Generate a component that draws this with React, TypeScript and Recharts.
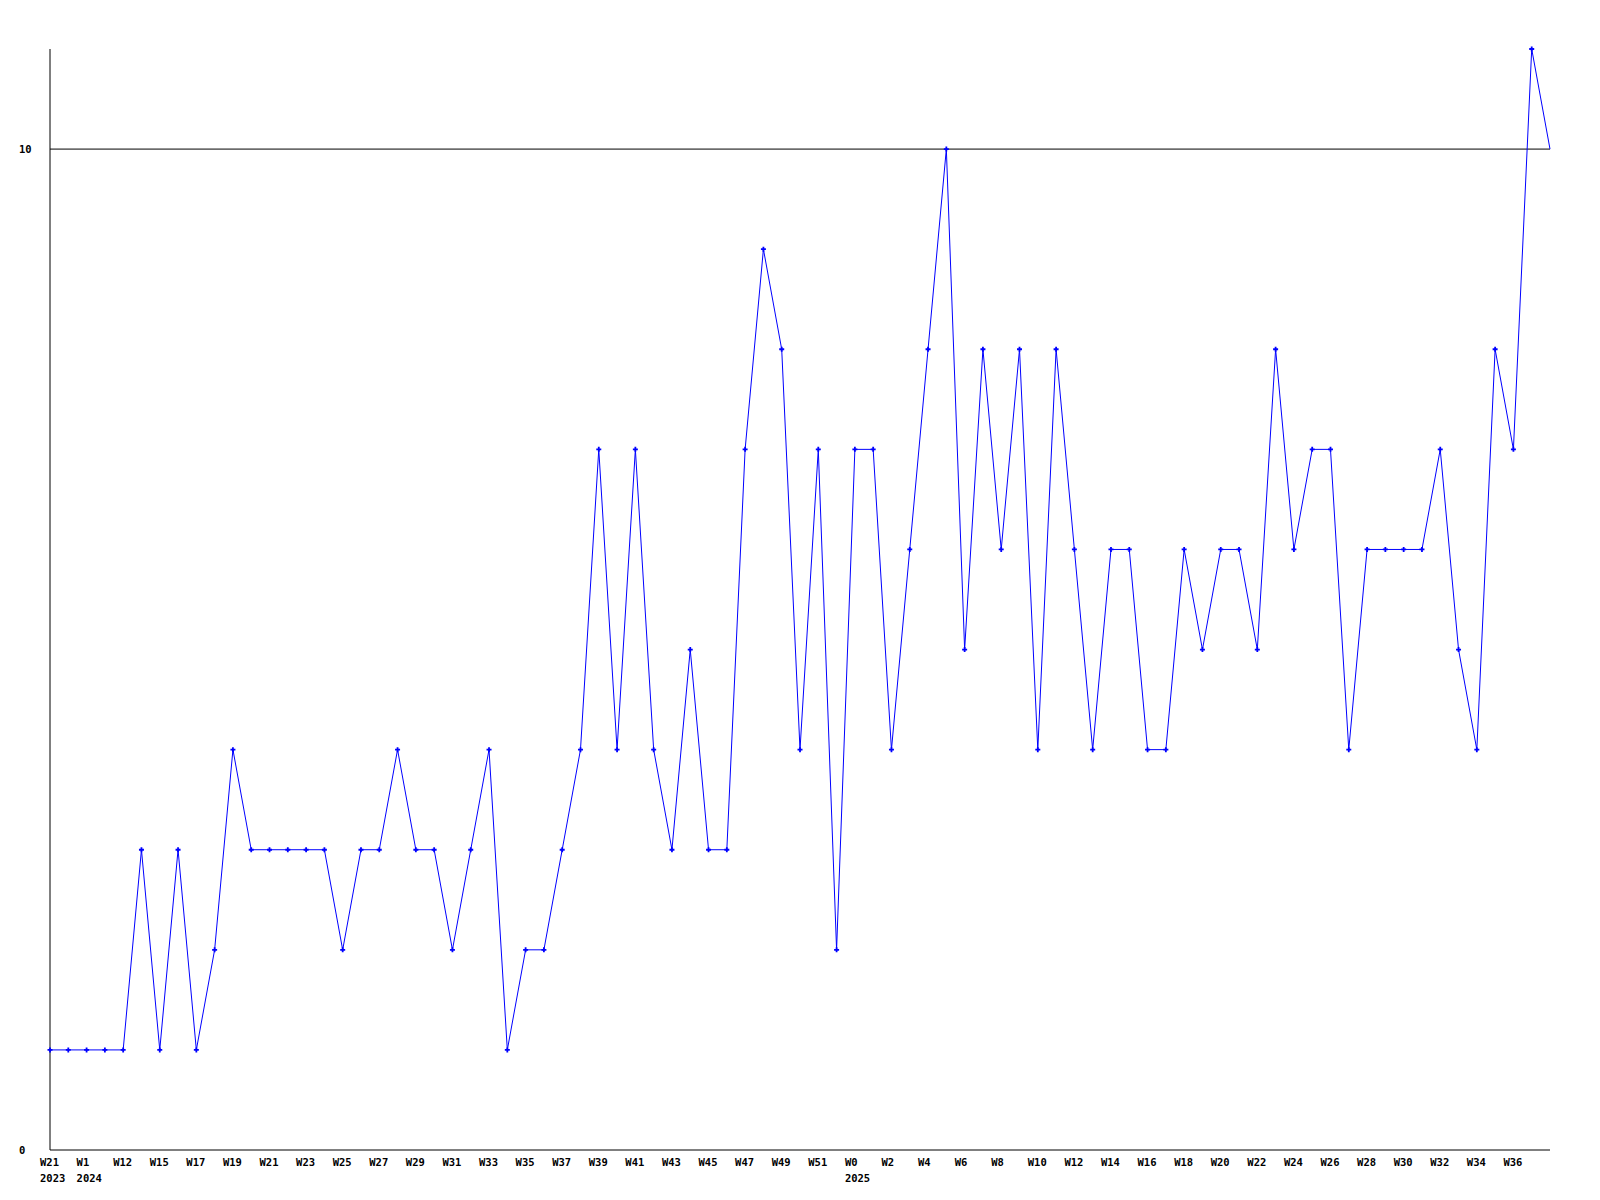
import { LineChart, Line, XAxis, YAxis, ReferenceLine } from 'recharts';

// one entry per point (week), only even ones are shown on the axis
const weekLabels = [
  'W21', 'W52', 'W1', 'W11', 'W12', 'W14', 'W15', 'W16', 'W17', 'W18',
  'W19', 'W20', 'W21', 'W22', 'W23', 'W24', 'W25', 'W26', 'W27', 'W28',
  'W29', 'W30', 'W31', 'W32', 'W33', 'W34', 'W35', 'W36', 'W37', 'W38',
  'W39', 'W40', 'W41', 'W42', 'W43', 'W44', 'W45', 'W46', 'W47', 'W48',
  'W49', 'W50', 'W51', 'W52', 'W0', 'W1', 'W2', 'W3', 'W4', 'W5',
  'W6', 'W7', 'W8', 'W9', 'W10', 'W11', 'W12', 'W13', 'W14', 'W15',
  'W16', 'W17', 'W18', 'W19', 'W20', 'W21', 'W22', 'W23', 'W24', 'W25',
  'W26', 'W27', 'W28', 'W29', 'W30', 'W31', 'W32', 'W33', 'W34', 'W35',
  'W36', 'W37', 'W38',
];

const yearStarts: Record<number, string> = { 0: '2023', 2: '2024', 44: '2025' };

const counts = [
  1, 1, 1, 1, 1, 3, 1, 3, 1, 2,
  4, 3, 3, 3, 3, 3, 2, 3, 3, 4,
  3, 3, 2, 3, 4, 1, 2, 2, 3, 4,
  7, 4, 7, 4, 3, 5, 3, 3, 7, 9,
  8, 4, 7, 2, 7, 7, 4, 6, 8, 10,
  5, 8, 6, 8, 4, 8, 6, 4, 6, 6,
  4, 4, 6, 5, 6, 6, 5, 8, 6, 7,
  7, 4, 6, 6, 6, 6, 7, 5, 4, 8,
  7, 11, 10,
];

const yTicks = [0, 10];

const data = counts.map((v, i) => ({ i, v }));
const xTicks = data.filter((d) => d.i % 2 === 0 && d.i < counts.length - 1).map((d) => d.i);

const FONT = '"DejaVu Sans Mono", monospace';

function XTick({ x, payload }: any) {
  const idx = payload.value as number;
  const year = yearStarts[idx];
  return (
    <g>
      <text x={x - 10} y={1162} textAnchor="start" dominantBaseline="central"
        fontFamily={FONT} fontSize={10.5} fontWeight="bold" fill="#000">
        {weekLabels[idx]}
      </text>
      {year && (
        <text x={x - 10} y={1178} textAnchor="start" dominantBaseline="central"
          fontFamily={FONT} fontSize={10.5} fontWeight="bold" fill="#000">
          {year}
        </text>
      )}
    </g>
  );
}

function YTick({ y, payload }: any) {
  return (
    <text x={19} y={y} textAnchor="start" dominantBaseline="central"
      fontFamily={FONT} fontSize={10.5} fontWeight="bold" fill="#000">
      {payload.value}
    </text>
  );
}

function Marker({ cx, cy, index }: any) {
  if (index === counts.length - 1 || cx == null) return <g key={index} />;
  return (
    <path key={index} d={`M${cx - 2.5},${cy}H${cx + 2.5}M${cx},${cy - 2.5}V${cy + 2.5}`}
      stroke="#0000ff" strokeWidth={1.8} fill="none" />
  );
}

export default function App() {
  return (
    <div style={{ position: 'absolute', left: 0, top: 0, background: '#fff' }}>
      <LineChart width={1600} height={1200} data={data}
        margin={{ top: 49, right: 50, bottom: 0, left: 0 }}>
        <XAxis dataKey="i" type="number" domain={[0, counts.length - 1]} ticks={xTicks}
          interval={0} height={50} tickLine={false} axisLine={{ stroke: '#000' }}
          tick={<XTick />} />
        <YAxis type="number" domain={[0, 11]} ticks={yTicks} width={50}
          tickLine={false} axisLine={{ stroke: '#000' }} tick={<YTick />} />
        <ReferenceLine y={10} stroke="#000" />
        <Line type="linear" dataKey="v" stroke="#0000ff" strokeWidth={1}
          dot={Marker} activeDot={false} isAnimationActive={false} />
      </LineChart>
    </div>
  );
}
